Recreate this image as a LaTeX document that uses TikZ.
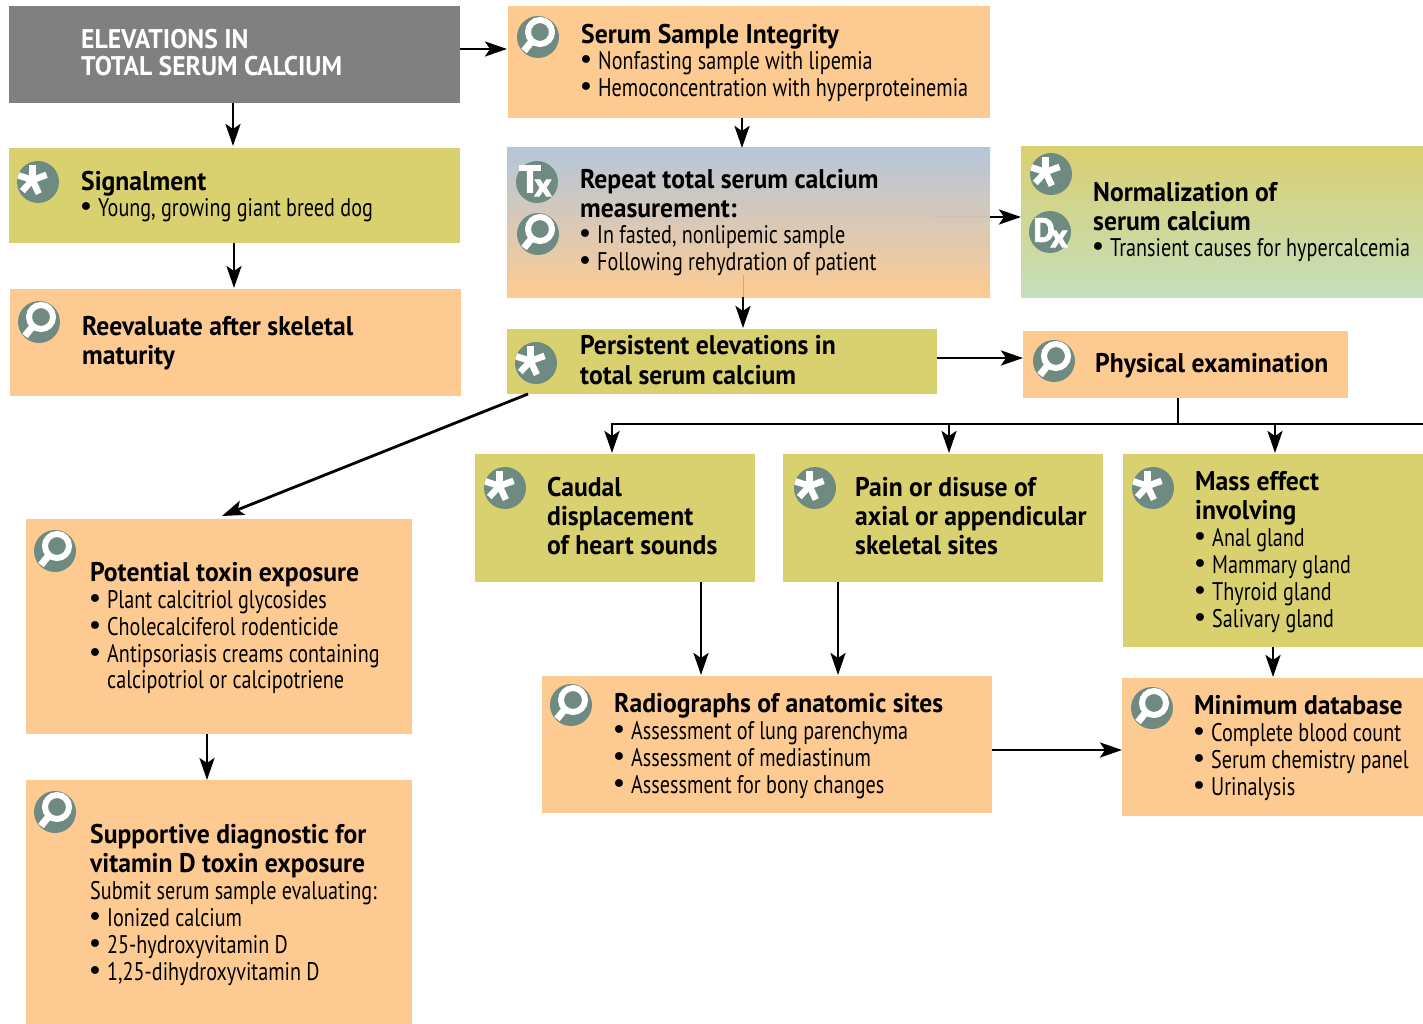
\documentclass[tikz,border=0pt]{standalone}
\usepackage{fontspec}
\setmainfont[FakeStretch=0.79,BoldFeatures={FakeStretch=0.95}]{PT Sans}
\newfontfamily\iconfont[BoldFeatures={FakeBold=2.5}]{PT Sans}
\newfontfamily\bulfont{DejaVu Sans}
\usetikzlibrary{arrows.meta,calc}
\definecolor{orangeb}{HTML}{FDCB92}
\definecolor{oliveb}{HTML}{D9D070}
\definecolor{grayb}{HTML}{808080}
\definecolor{iconc}{HTML}{6F8A80}
\definecolor{blueb}{HTML}{B5C6DB}
\definecolor{greenb}{HTML}{C5DEBC}
\newcommand\BF{\fontsize{27}{29}\selectfont\bfseries}
\newcommand\LB[1]{\baselineskip=29pt\hbox{\lower0.7pt\hbox{\BF #1}}}
\newcommand\LBB[1]{\baselineskip=30pt\hbox{\lower0.7pt\hbox{\BF #1}}}
\newcommand\LBT[1]{\baselineskip=27pt\hbox{\lower0.7pt\hbox{\BF #1}}}
\newcommand\LN[1]{\baselineskip=27pt\hbox{#1}}
\newcommand\LP[1]{\baselineskip=27pt\hbox{\makebox[17pt][l]{\hspace{-3pt}{\bulfont\fontsize{27}{27}\selectfont\textbullet}}#1}}
\newcommand\LH[1]{\baselineskip=26pt\hbox{\hspace{17pt}#1}}
\newcommand\Blk[1]{\vtop{\lineskiplimit=-100pt\relax #1}}
\tikzset{
  x=1pt,y=-1pt,
  boxb/.style={anchor=north west,inner sep=0pt,outer sep=0pt},
  orange box/.style={boxb,fill=orangeb},
  olive box/.style={boxb,fill=oliveb},
  txt/.style={anchor=base west,inner sep=0pt,font=\fontsize{25.5}{27}\selectfont,text=black},
  arr/.style={line width=2.8pt,-{Stealth[length=22pt,width=15pt,inset=5pt]}},
  plain/.style={line width=2.8pt},
  faint/.style={line width=1pt,draw=black!30!orangeb},
  iconletter/.style={inner sep=0pt,text=white,font=\fontsize{38}{38}\iconfont\bfseries},
  iconsmall/.style={inner sep=0pt,text=white,font=\fontsize{33}{33}\iconfont\bfseries},
  lens/.pic={
    \fill[iconc] (0,0) circle[radius=21];
    \draw[white,line width=6pt] (2,-5) circle[radius=12];
    \draw[white,line width=7pt] (-6,4) -- (-14,14);
  },
  star/.pic={
    \fill[iconc] (0,0) circle[radius=21];
    \foreach \a in {90,18,-47,-115,160}
      \draw[white,line width=6.5pt] (-5.5,-2) -- ++({\a}:-15);
  },
  txicon/.pic={
    \fill[iconc] (0,0) circle[radius=21];
    \node[iconletter] (-t) at (-7,-3) {T};
    \node[iconsmall] (-x) at (6,6) {x};
  },
  dxicon/.pic={
    \fill[iconc] (0,0) circle[radius=21];
    \node[iconsmall] (-d) at (-6,-2) {D};
    \node[iconsmall] (-x) at (9,7) {x};
  },
}
\begin{document}
\begin{tikzpicture}
\useasboundingbox (0,0) rectangle (1423,1024);
% boxes
\node[boxb,fill=grayb,minimum width=451pt,minimum height=97pt] (top) at (9,6) {};
\node[orange box,minimum width=482pt,minimum height=112pt] (serum) at (508,6) {};
\node[olive box,minimum width=451pt,minimum height=95pt] (signal) at (9,148) {};
\node[orange box,minimum width=451pt,minimum height=107pt] (reeval) at (10,289) {};
\node[boxb,top color=blueb,bottom color=orangeb,minimum width=483pt,minimum height=149pt] (repeat) at (507,148) {};
\node[boxb,top color=oliveb,bottom color=greenb,minimum width=402pt,minimum height=150pt] (norm) at (1021,147) {};
\node[olive box,minimum width=430pt,minimum height=65pt] (persist) at (507,329) {};
\node[orange box,minimum width=325pt,minimum height=67pt] (phys) at (1023,331) {};
\node[olive box,minimum width=280pt,minimum height=128pt] (caudal) at (475,454) {};
\node[olive box,minimum width=320pt,minimum height=128pt] (pain) at (783,454) {};
\node[olive box,minimum width=300pt,minimum height=193pt] (mass) at (1123,454) {};
\node[orange box,minimum width=450pt,minimum height=137pt] (radio) at (542,676) {};
\node[orange box,minimum width=301pt,minimum height=138pt] (mindb) at (1122,678) {};
\node[orange box,minimum width=386pt,minimum height=215pt] (toxin) at (26,519) {};
\node[orange box,minimum width=386pt,minimum height=244pt] (supp) at (26,780) {};
% faint traces inside the gradient box
\draw[line width=1pt,draw=black!25!white,opacity=.6] ($(repeat.east)+(-57,-5.5)$) -- ($(repeat.east)+(0,-5.5)$);
\draw[faint,opacity=.6] ($(repeat.south west)+(236,-22)$) -- ($(repeat.south west)+(236,0)$);
% connectors
\draw[arr] ($(top.south west)+(224,0)$) -- ($(signal.north west)+(224,-2)$);
\draw[arr] ($(top.north east)+(0,43)$) -- ($(serum.north west)+(-1,43)$);
\draw[arr] ($(signal.south west)+(225,0)$) -- ($(reeval.north west)+(224,-1)$);
\draw[arr] ($(serum.south west)+(234,0)$) -- ($(repeat.north west)+(235,0)$);
\draw[arr] ($(repeat.south west)+(236,0)$) -- ($(persist.north west)+(236,-1)$);
\draw[arr] ($(repeat.north east)+(0,69)$) -- ($(norm.north west)+(0,70)$);
\draw[arr] ($(persist.north east)+(0,29)$) -- ($(phys.north west)+(0,27)$);
\draw[arr] ($(persist.south west)+(21,0)$) -- ($(toxin.north west)+(196,-3)$);
\coordinate (busr) at (1423,424);
\coordinate (busj) at ($(phys.south west)+(155,26)$);
\coordinate (busc) at ($(caudal.north west)+(137,-30)$);
\draw[plain] ($(phys.south west)+(155,0)$) -- (busj);
\draw[plain] (busr) -- ($(busc)+(-1.4,0)$);
\draw[arr] (busc) -- ($(caudal.north west)+(137,-1)$);
\draw[arr] ($(pain.north west)+(166,-30)$) -- ($(pain.north west)+(166,-1)$);
\draw[arr] ($(mass.north west)+(152,-30)$) -- ($(mass.north west)+(152,-1)$);
\draw[arr] ($(caudal.south west)+(226,0)$) -- ($(radio.north west)+(159,-1)$);
\draw[arr] ($(pain.south west)+(55,0)$) -- ($(radio.north west)+(296,-1)$);
\draw[arr] ($(mass.south west)+(150,0)$) -- ($(mindb.north west)+(151,-1)$);
\draw[arr] ($(radio.north east)+(0,74)$) -- ($(mindb.north west)+(0,72)$);
\draw[arr] ($(toxin.south west)+(181,0)$) -- ($(supp.north west)+(181,0)$);
% icons
\pic at (38,182) {star};
\pic at (39,322) {lens};
\pic at (538,37) {lens};
\pic (tx) at (537,182) {txicon};
\pic at (538,234) {lens};
\pic at (536,363) {star};
\pic at (1051,174) {star};
\pic (dx) at (1050,232) {dxicon};
\pic at (1054,361) {lens};
\pic at (505,488) {star};
\pic at (815,488) {star};
\pic at (1153,488) {star};
\pic at (571,705) {lens};
\pic at (1152,708) {lens};
\pic at (55,551) {lens};
\pic at (55,812) {lens};
% texts
\node[txt,text=white] (ttop) at (81,48) {\Blk{\LBT{ELEVATIONS IN}\LBT{TOTAL SERUM CALCIUM}}};
\node[txt] (tserum) at (581,43) {\Blk{\LB{Serum Sample Integrity}\LP{Nonfasting sample with lipemia}\LP{Hemoconcentration with hyperproteinemia}}};
\node[txt] (tsignal) at (81,190) {\Blk{\LB{Signalment}\LP{Young, growing giant breed dog}}};
\node[txt] (treeval) at (82,335) {\Blk{\LB{Reevaluate after skeletal}\LB{maturity}}};
\node[txt] (trepeat) at (580,188) {\Blk{\LB{Repeat total serum calcium}\LB{measurement:}\LP{In fasted, nonlipemic sample}\LP{Following rehydration of patient}}};
\node[txt] (tnorm) at (1093,201) {\Blk{\LB{Normalization of}\LB{serum calcium}\LP{Transient causes for hypercalcemia}}};
\node[txt] (tpersist) at (580,354) {\Blk{\LB{Persistent elevations in}\LBB{total serum calcium}}};
\node[txt] (tphys) at (1095,372) {\Blk{\LB{Physical examination}}};
\node[txt] (tcaudal) at (547,496) {\Blk{\LB{Caudal}\LB{displacement}\LB{of heart sounds}}};
\node[txt] (tpain) at (855,496) {\Blk{\LB{Pain or disuse of}\LB{axial or appendicular}\LB{skeletal sites}}};
\node[txt] (tmass) at (1195,490) {\Blk{\LB{Mass effect}\LB{involving}\LP{Anal gland}\LP{Mammary gland}\LP{Thyroid gland}\LP{Salivary gland}}};
\node[txt] (tradio) at (614,712) {\Blk{\LB{Radiographs of anatomic sites}\LP{Assessment of lung parenchyma}\LP{Assessment of mediastinum}\LP{Assessment for bony changes}}};
\node[txt] (tmindb) at (1194,714) {\Blk{\LB{Minimum database}\LP{Complete blood count}\LP{Serum chemistry panel}\LP{Urinalysis}}};
\node[txt] (ttoxin) at (90,581) {\Blk{\LB{Potential toxin exposure}\LP{Plant calcitriol glycosides}\LP{Cholecalciferol rodenticide}\LP{Antipsoriasis creams containing}\LH{calcipotriol or calcipotriene}}};
\node[txt] (tsupp) at (90,843) {\Blk{\LB{Supportive diagnostic for}\LB{vitamin D toxin exposure}\LN{Submit serum sample evaluating:}\LP{Ionized calcium}\LP{25-hydroxyvitamin D}\LP{1,25-dihydroxyvitamin D}}};
\end{tikzpicture}
\end{document}
